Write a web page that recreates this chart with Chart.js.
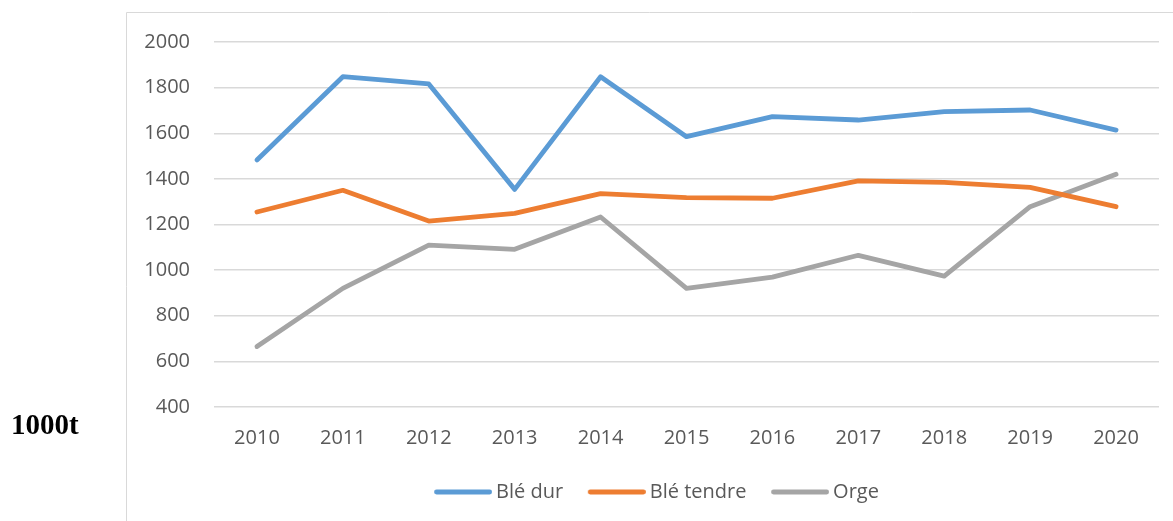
<!DOCTYPE html>
<html>
<head>
<meta charset="utf-8">
<script src="https://cdn.jsdelivr.net/npm/chart.js@4"></script>
<style>
html,body{margin:0;padding:0;background:#fff;overflow:hidden;width:1173px;height:521px;}
#wrap{position:absolute;left:0;top:0;width:1173px;height:560px;}
</style>
</head>
<body>
<div id="wrap"><canvas id="c"></canvas></div>
<script>
const years = ['2010','2011','2012','2013','2014','2015','2016','2017','2018','2019','2020'];
const bleDur = [1483,1848,1816,1354,1848,1585,1673,1658,1695,1702,1614];
const bleTendre = [1255,1350,1215,1249,1335,1318,1315,1391,1385,1363,1278];
const orge = [665,920,1110,1091,1233,920,969,1065,974,1278,1420];
const yMin = 400, yMax = 2000, yStep = 200;
const unitLabel = '1000t';

const LW = 4.8;
function legendLine(color) {
  const c = document.createElement('canvas');
  c.width = 62; c.height = 10;
  const g = c.getContext('2d');
  g.strokeStyle = color;
  g.lineWidth = LW;
  g.lineCap = 'round';
  g.beginPath();
  g.moveTo(4 + LW / 2, 5);
  g.lineTo(62 - LW / 2, 5);
  g.stroke();
  return c;
}

const frame = {
  id: 'frame',
  afterLayout(chart) {
    const lg = chart.legend;
    if (lg) { lg.left += 13; lg.right += 13; }
  },
  beforeDraw(chart) {
    const ctx = chart.ctx;
    ctx.save();
    ctx.strokeStyle = '#d9d9d9';
    ctx.lineWidth = 1;
    ctx.beginPath();
    ctx.moveTo(126.5, 560);
    ctx.lineTo(126.5, 12.5);
    ctx.lineTo(1173, 12.5);
    ctx.stroke();
    ctx.restore();
  },
  afterDraw(chart) {
    const ctx = chart.ctx;
    ctx.save();
    ctx.fillStyle = '#000';
    ctx.font = 'bold 29px "Liberation Serif", "Times New Roman", serif';
    ctx.textBaseline = 'alphabetic';
    ctx.textAlign = 'left';
    ctx.fillText(unitLabel, 11, 434);
    ctx.restore();
  }
};

const font = {family: '"Open Sans", sans-serif', size: 20};
const mk = (label, data, color) => ({
  label, data, borderColor: color, backgroundColor: color,
  borderWidth: LW, borderCapStyle: 'round', borderJoinStyle: 'round',
  pointRadius: 0, pointHoverRadius: 0, pointStyle: legendLine(color),
  tension: 0, fill: false
});

new Chart(document.getElementById('c'), {
  type: 'line',
  data: {
    labels: years,
    datasets: [
      mk('Blé dur', bleDur, '#5B9BD5'),
      mk('Blé tendre', bleTendre, '#ED7D31'),
      mk('Orge', orge, '#A5A5A5')
    ]
  },
  options: {
    responsive: true,
    maintainAspectRatio: false,
    animation: false,
    devicePixelRatio: 1,
    layout: {padding: {left: 130, right: 14, top: 42, bottom: 48}},
    plugins: {
      tooltip: {enabled: false},
      legend: {
        position: 'bottom',
        labels: {
          usePointStyle: true,
          pointStyleWidth: 50,
          boxHeight: 20,
          padding: 26.65,
          color: '#595959',
          font: font
        }
      }
    },
    scales: {
      x: {
        offset: true,
        grid: {display: false, drawTicks: false},
        border: {display: false},
        ticks: {color: '#595959', font: font, padding: 19, maxRotation: 0},
        afterFit(s) { s.height = 48.35; }
      },
      y: {
        min: yMin, max: yMax,
        grid: {color: '#d9d9d9', lineWidth: 1.5, drawTicks: false},
        border: {display: false},
        ticks: {stepSize: yStep, color: '#595959', font: font, padding: 24,
                callback: (v) => String(v)},
        afterFit(s) { s.width = 84; }
      }
    }
  },
  plugins: [frame]
});
</script>
</body>
</html>
